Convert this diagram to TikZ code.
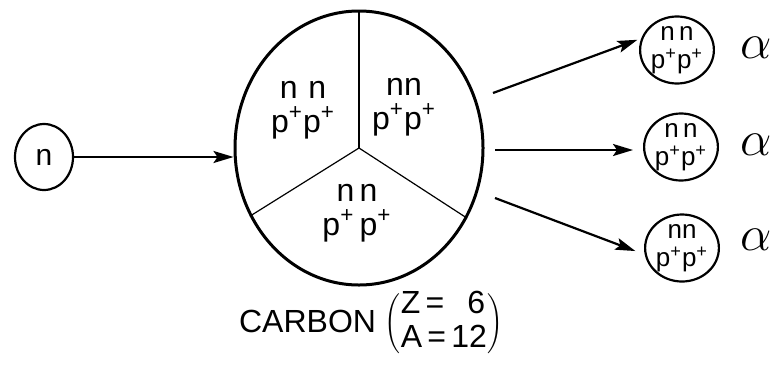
\documentclass[tikz,border=0pt]{standalone}
\usepackage{fontspec}
\setmainfont{Liberation Sans}
\usetikzlibrary{shapes.geometric,arrows.meta}
\begin{document}
\begin{tikzpicture}[
  x=0.5pt, y=-0.5pt,
  nucleus/.style={ellipse, draw, line width=1.5pt, inner sep=0pt,
    minimum width=124pt, minimum height=137pt},
  neutron/.style={ellipse, draw, line width=1.1pt, inner sep=0pt,
    minimum width=29pt, minimum height=33pt, font=\fontsize{15}{15}\selectfont},
  alphabox/.style={ellipse, draw, line width=1.1pt, inner sep=0pt,
    minimum width=35pt, minimum height=33pt, align=center,
    font=\fontsize{13}{14}\selectfont},
  cluster/.style={align=center, font=\fontsize{16}{17}\selectfont},
  greek/.style={font=\fontsize{25}{25}\selectfont},
  arr/.style={-{Stealth[length=10pt, width=6pt, inset=2pt]}, line width=1.1pt},
  divider/.style={line width=0.6pt},
]
\useasboundingbox (0,0) rectangle (780,370);

% Incoming neutron and carbon nucleus
\node[neutron] (n) at (44,157) {n};
\node[nucleus] (carbon) at (359,148) {};
\draw[arr] (n.east) -- (n.east -| carbon.west);

% Three alpha clusters inside the nucleus
\draw[divider] (carbon.center) -- (carbon.north);
\draw[divider] (carbon.center) -- (carbon.212);
\draw[divider] (carbon.center) -- (carbon.327);
\node[cluster] (c1) at (303,110) {n\,\,n\\p\textsuperscript{+}p\textsuperscript{+}};
\node[cluster] (c2) at (404,107) {nn\\p\textsuperscript{+}p\textsuperscript{+}};
\node[cluster] (c3) at (357,213) {n\,n\\p\textsuperscript{+}\,p\textsuperscript{+}};

% Label
\node[font=\fontsize{16}{16}\selectfont] (label) at (371,324)
  {CARBON $\left(\mbox{\begin{tabular}{@{}l@{}}Z\,=\,\ \ 6\\[1pt]A\,=\,12\end{tabular}}\right)$};

% Outgoing alpha particles
\node[alphabox] (a1) at (677,50) {n\,n\\p\textsuperscript{+}p\textsuperscript{+}};
\node[alphabox] (a2) at (681,147) {n\,n\\p\textsuperscript{+}p\textsuperscript{+}};
\node[alphabox] (a3) at (682,248) {nn\\p\textsuperscript{+}p\textsuperscript{+}};
\node[greek] (l1) at (756,48) {$\alpha$};
\node[greek] (l2) at (756,145) {$\alpha$};
\node[greek] (l3) at (756,240) {$\alpha$};

\coordinate (o1) at (493,93);
\coordinate (o2) at (495,150);
\coordinate (o3) at (495,198);
\draw[arr, shorten >=2pt] (o1) -- (a1.162);
\draw[arr, shorten >=5pt] (o2) -- (o2 -| a2.west);
\draw[arr, shorten >=5pt] (o3) -- (a3.190);
\end{tikzpicture}
\end{document}
